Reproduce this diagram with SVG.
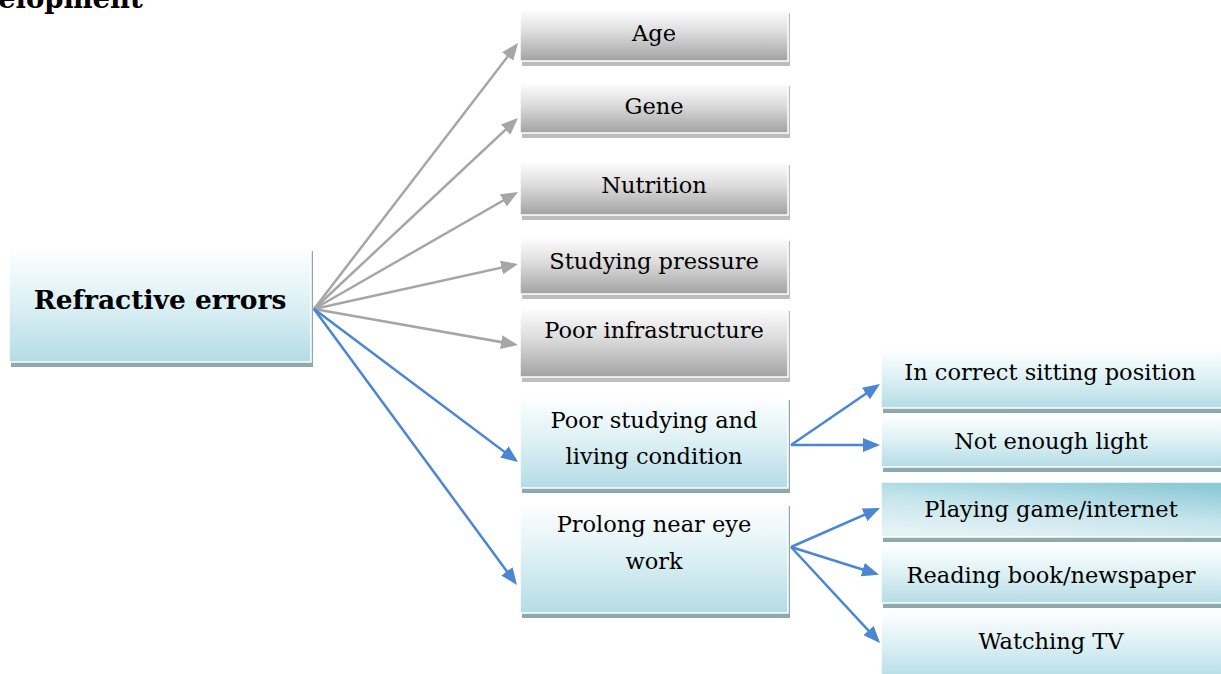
<svg xmlns="http://www.w3.org/2000/svg" width="1221" height="674" viewBox="0 0 1221 674">
<defs>
<linearGradient id="gGrey" x1="0" y1="0" x2="0" y2="1">
<stop offset="0" stop-color="#ffffff"/>
<stop offset="0.45" stop-color="#dcdcdc"/>
<stop offset="1" stop-color="#a2a2a2"/>
</linearGradient>
<linearGradient id="gBlue" x1="0" y1="0" x2="0" y2="1">
<stop offset="0" stop-color="#ffffff"/>
<stop offset="0.5" stop-color="#dcf0f4"/>
<stop offset="1" stop-color="#b4dce5"/>
</linearGradient>
<linearGradient id="gBlue2" x1="0.25" y1="1" x2="0.75" y2="0">
<stop offset="0" stop-color="#e6f3f6"/>
<stop offset="0.5" stop-color="#c5e5ec"/>
<stop offset="1" stop-color="#8ecad7"/>
</linearGradient>
<marker id="aGrey" markerUnits="userSpaceOnUse" markerWidth="18" markerHeight="14" refX="14" refY="7" orient="auto">
<path d="M0,0 L17,7 L0,14 z" fill="#a6a6a6"/>
</marker>
<marker id="aBlue" markerUnits="userSpaceOnUse" markerWidth="18" markerHeight="14" refX="14" refY="7" orient="auto">
<path d="M0,0 L17,7 L0,14 z" fill="#4a86d4"/>
</marker>
<style>
.t{font-family:"DejaVu Serif","Liberation Serif",serif;font-size:22.5px;fill:#000;text-anchor:middle}
.tb{font-family:"DejaVu Serif","Liberation Serif",serif;font-size:26.5px;font-weight:bold;fill:#000;text-anchor:middle}
.sg{fill:#bdbdbd}
.sb{fill:#8ea9ae}
.bx{stroke:#ffffff;stroke-width:1.5}
.cg{stroke:#a6a6a6;stroke-width:2.5;fill:none;marker-end:url(#aGrey)}
.cb{stroke:#4a86d4;stroke-width:2.5;fill:none;marker-end:url(#aBlue)}
</style>
</defs>
<rect width="1221" height="674" fill="#ffffff"/>
<text x="-2" y="8" font-family="DejaVu Serif, Liberation Serif, serif" font-size="27.5" font-weight="bold" fill="#000">elopment</text>

<g id="connectors">
<line class="cg" x1="314" y1="309" x2="516.2" y2="45.4"/>
<line class="cg" x1="314" y1="309" x2="515.8" y2="120"/>
<line class="cg" x1="314" y1="309" x2="515.4" y2="193.5"/>
<line class="cg" x1="314" y1="309" x2="515.1" y2="264.6"/>
<line class="cg" x1="314" y1="309" x2="515" y2="344.5"/>
<line class="cb" x1="314" y1="309" x2="515.6" y2="460.2"/>
<line class="cb" x1="314" y1="309" x2="515.2" y2="582.6"/>
<line class="cb" x1="791" y1="445" x2="877.5" y2="385.7"/>
<line class="cb" x1="791" y1="445" x2="877" y2="445"/>
<line class="cb" x1="791" y1="547" x2="877.3" y2="509.2"/>
<line class="cb" x1="791" y1="547" x2="876.1" y2="573.8"/>
<line class="cb" x1="791" y1="547" x2="878" y2="640.8"/>
</g>

<g id="n-refractive">
<rect class="sb" x="11" y="251" width="302" height="116"/>
<rect class="bx" x="9" y="247" width="302" height="115" fill="url(#gBlue)"/>
<text class="tb" x="160" y="309">Refractive errors</text>
</g>
<g id="n-age">
<rect class="sg" x="522" y="13" width="268" height="53"/>
<rect class="bx" x="520" y="9" width="268" height="52" fill="url(#gGrey)"/>
<text class="t" x="654" y="41">Age</text>
</g>
<g id="n-gene">
<rect class="sg" x="522" y="86" width="268" height="52"/>
<rect class="bx" x="520" y="82" width="268" height="51" fill="url(#gGrey)"/>
<text class="t" x="654" y="114">Gene</text>
</g>
<g id="n-nutrition">
<rect class="sg" x="522" y="165" width="268" height="55"/>
<rect class="bx" x="520" y="161" width="268" height="54" fill="url(#gGrey)"/>
<text class="t" x="654" y="193">Nutrition</text>
</g>
<g id="n-studying">
<rect class="sg" x="522" y="241" width="268" height="58"/>
<rect class="bx" x="520" y="237" width="268" height="57" fill="url(#gGrey)"/>
<text class="t" x="654" y="269">Studying pressure</text>
</g>
<g id="n-infra">
<rect class="sg" x="522" y="311" width="268" height="71"/>
<rect class="bx" x="520" y="307" width="268" height="70" fill="url(#gGrey)"/>
<text class="t" x="654" y="338">Poor infrastructure</text>
</g>
<g id="n-poorstudy">
<rect class="sb" x="522" y="400" width="268" height="93"/>
<rect class="bx" x="520" y="396" width="268" height="92" fill="url(#gBlue)"/>
<text class="t" x="654" y="428">Poor studying and</text>
<text class="t" x="654" y="464">living condition</text>
</g>
<g id="n-prolong">
<rect class="sb" x="522" y="506" width="268" height="112"/>
<rect class="bx" x="520" y="502" width="268" height="111" fill="url(#gBlue)"/>
<text class="t" x="654" y="532">Prolong near eye</text>
<text class="t" x="654" y="569">work</text>
</g>
<g id="n-sitting">
<rect class="sb" x="883" y="353" width="345" height="60"/>
<rect class="bx" x="881" y="349" width="345" height="59" fill="url(#gBlue)"/>
<text class="t" x="1050" y="380">In correct sitting position</text>
</g>
<g id="n-light">
<rect class="sb" x="883" y="419" width="345" height="53"/>
<rect class="bx" x="881" y="415" width="345" height="52" fill="url(#gBlue)"/>
<text class="t" x="1051" y="449">Not enough light</text>
</g>
<g id="n-playing">
<rect class="sb" x="883" y="486" width="345" height="56"/>
<rect class="bx" x="881" y="482" width="345" height="55" fill="url(#gBlue2)"/>
<text class="t" x="1051" y="517">Playing game/internet</text>
</g>
<g id="n-reading">
<rect class="sb" x="883" y="549" width="345" height="59"/>
<rect class="bx" x="881" y="545" width="345" height="58" fill="url(#gBlue)"/>
<text class="t" x="1051" y="583">Reading book/newspaper</text>
</g>
<g id="n-tv">
<rect class="sb" x="883" y="614" width="345" height="71"/>
<rect class="bx" x="881" y="610" width="345" height="70" fill="url(#gBlue)"/>
<text class="t" x="1051" y="649">Watching TV</text>
</g>
</svg>
